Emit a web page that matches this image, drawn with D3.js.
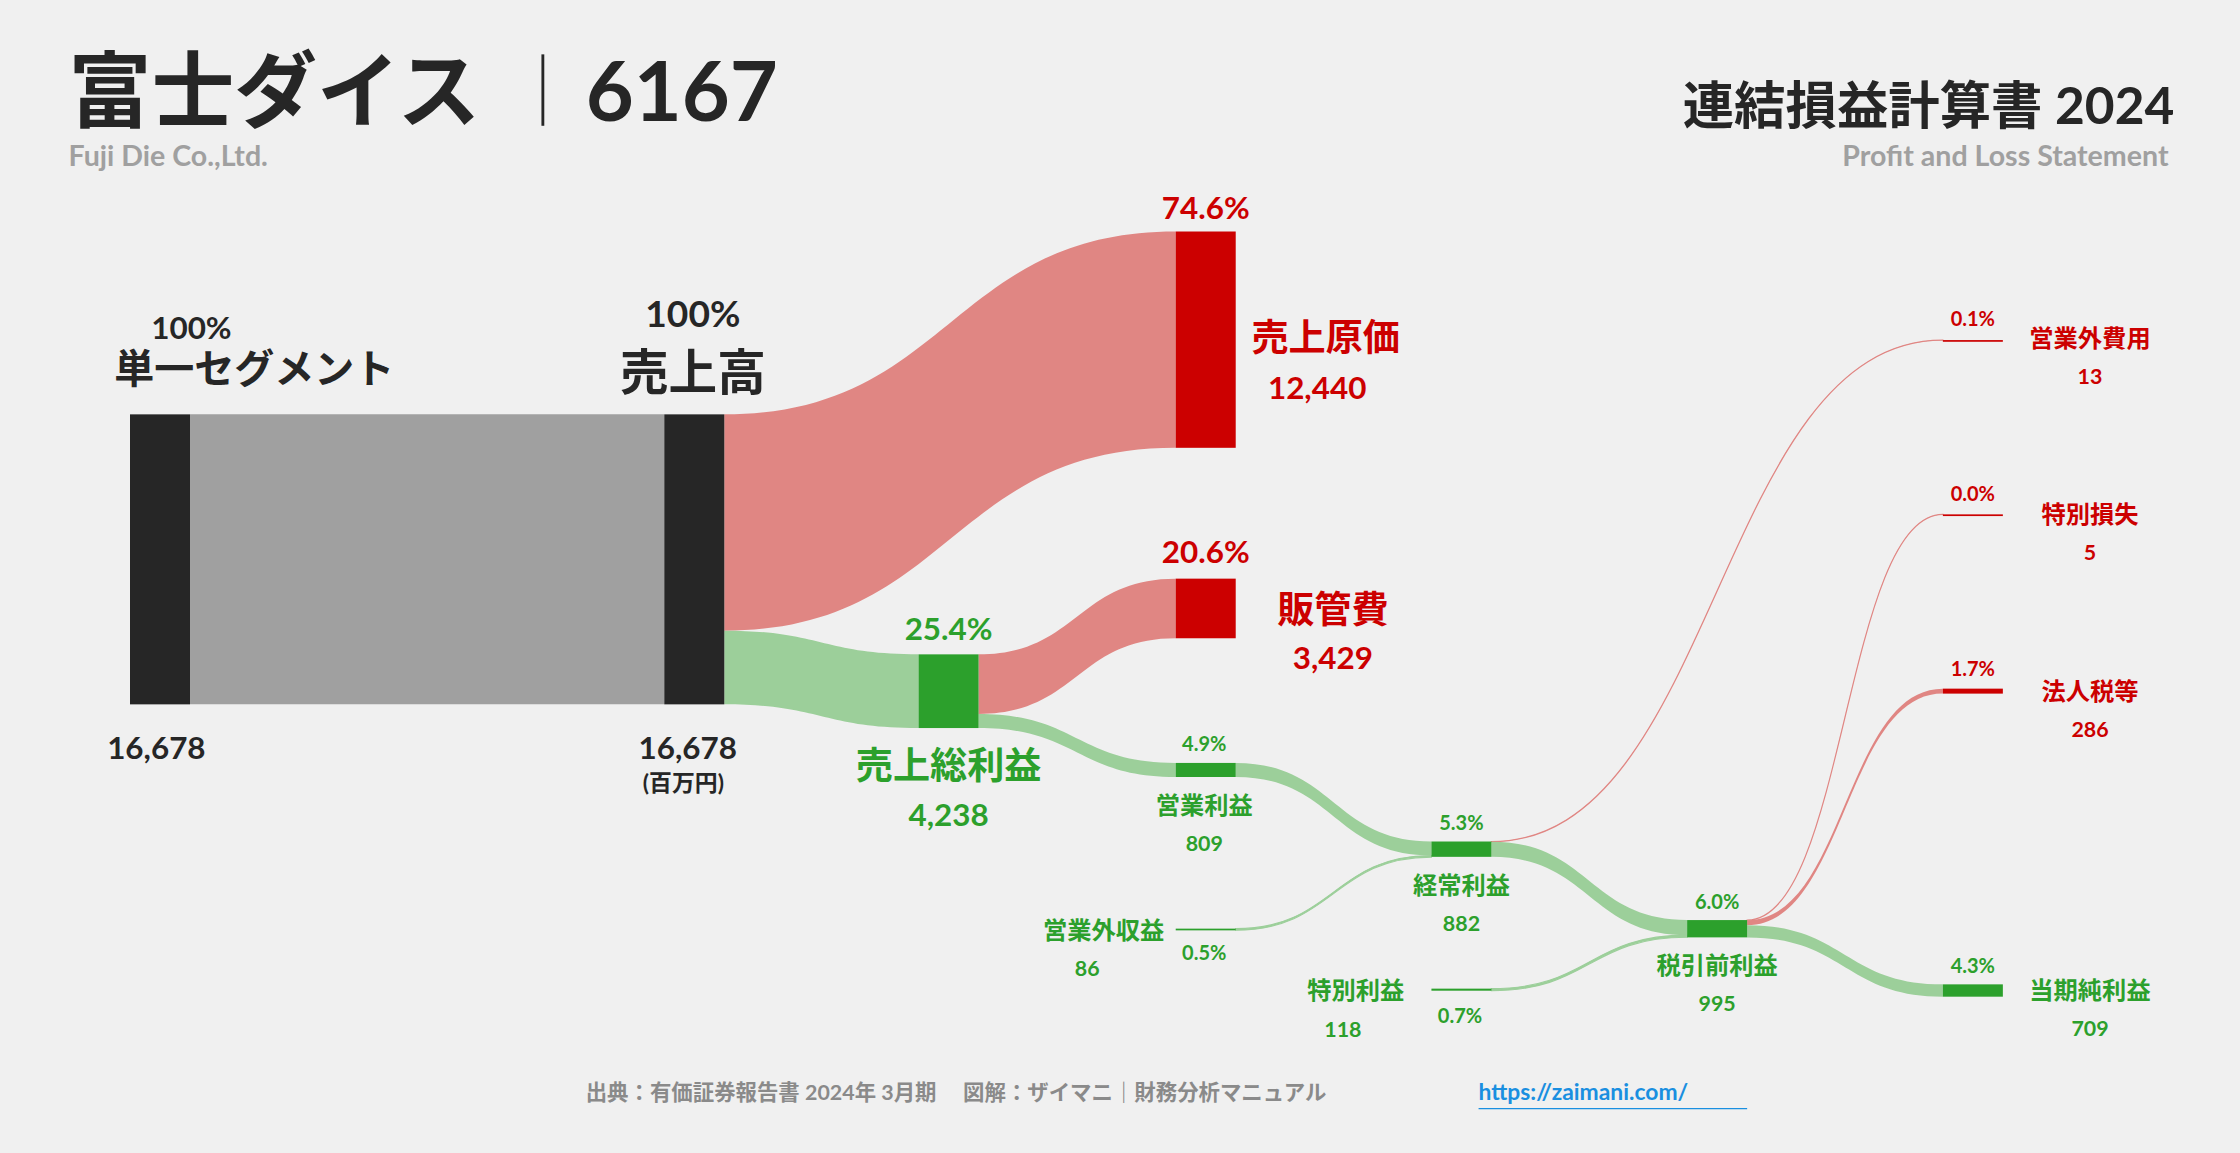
<!DOCTYPE html>
<html><head><meta charset="utf-8">
<script src="https://cdn.jsdelivr.net/npm/d3@7"></script>
<style>body{margin:0;background:#f0f0f0}svg{display:block}text{font-family:Lato,"Noto Sans CJK JP",sans-serif;font-weight:700}</style>
</head><body><svg id="c" width="2240" height="1153" viewBox="0 0 1568 807"></svg>
<script>
// ---- data ----
const nodeNames = ["単一セグメント","売上高","売上原価","販管費","売上総利益","営業利益","営業外収益","経常利益","特別利益","営業外費用","税引前利益","特別損失","法人税等","当期純利益"];
const nodeValues = [16678,16678,12440,3429,4238,809,86,882,118,13,995,5,286,709];
const nodeKinds = ["k","k","r","r","g","g","g","g","g","r","g","r","r","g"];
const linkSources = ["単一セグメント","売上高","売上高","売上総利益","売上総利益","営業利益","営業外収益","経常利益","経常利益","特別利益","税引前利益","税引前利益","税引前利益"];
const linkTargets = ["売上高","売上原価","売上総利益","販管費","営業利益","経常利益","経常利益","営業外費用","税引前利益","税引前利益","特別損失","法人税等","当期純利益"];
const linkValues = [16678,12440,4238,3429,809,809,86,13,869,118,5,286,709];
// layout (column x, node top)
const layoutX = [91,465,823,823,643,823,823,1002,1002,1360,1181,1360,1360,1360];
const layoutY = [290,290,162,405,458,534,650,589,692,238,644,360,482,689];

const svg = d3.select("#c");
svg.append("rect").attr("width",1568).attr("height",807).attr("fill","#f0f0f0");
const h = d3.scaleLinear().domain([0,16678]).range([0,203]);
const W = 42;
const nodeCol = {k:"#262626",r:"#cc0000",g:"#2ca02c"};
const linkCol = {k:"#a0a0a0",r:"#e08683",g:"#9ccf9a"};
const nodes = {};
nodeNames.forEach((n,i)=>nodes[n]={x:layoutX[i],y:layoutY[i],h:h(nodeValues[i]),kind:nodeKinds[i],out:0,inn:0});
const gL = svg.append("g"), gN = svg.append("g");
linkSources.forEach((s,i)=>{
  const S=nodes[s],T=nodes[linkTargets[i]],w=h(linkValues[i]);
  const x0=S.x+W,x1=T.x,y0=S.y+S.out,y1=T.y+T.inn;S.out+=w;T.inn+=w;
  const xm=(x0+x1)/2;
  const kind = T.kind==="r"?"r":(S.kind==="k"&&T.kind==="k"?"k":"g");
  const p=d3.path();
  p.moveTo(x0,y0);p.bezierCurveTo(xm,y0,xm,y1,x1,y1);p.lineTo(x1,y1+w);
  p.bezierCurveTo(xm,y1+w,xm,y0+w,x0,y0+w);p.closePath();
  gL.append("path").attr("d",p.toString()).attr("fill",linkCol[kind])
    .attr("stroke",linkCol[kind]).attr("stroke-width",w<2?0.8:0);
});
nodeNames.forEach(n=>{const d=nodes[n];
  gN.append("rect").attr("x",d.x).attr("y",d.y).attr("width",W).attr("height",Math.max(d.h,1.2)).attr("fill",nodeCol[d.kind]);});

function t(x,y,s,size,col,anchor="middle",weight=700){
  return svg.append("text").attr("x",x).attr("y",y).text(s).attr("font-size",size).attr("fill",col).attr("text-anchor",anchor).attr("font-weight",weight);}
const K="#262626",R="#cc0000",G="#2ca02c",GR="#a0a0a0";
const fmt=d3.format(",");
const pct=v=>(v/16678*100).toFixed(1)+"%";
// header
t(48,85,"富士ダイス",58,K,"start",900);
svg.append("line").attr("x1",380).attr("x2",380).attr("y1",38).attr("y2",88).attr("stroke",K).attr("stroke-width",2);
t(410,85,"6167",58,K,"start",900);
t(48,116,"Fuji Die Co.,Ltd.",20,GR,"start");
t(1522,87,"連結損益計算書 2024",36,K,"end",900);
t(1518,116,"Profit and Loss Statement",20,GR,"end");
// labels
t(134,237,"100%",22,K);t(178,268,"単一セグメント",28,K);
t(485,229,"100%",26,K);t(485,273,"売上高",34,K);
t(75,531,fmt(nodeValues[0]),22,K,"start");t(447,531,fmt(nodeValues[1]),22,K,"start");
t(450,554,"(百万円)",16,K,"start");
t(844,153,pct(12440),22,R);t(876,246,"売上原価",26,R,"start");t(922,279,fmt(12440),22,R);
t(844,394,pct(3429),22,R);t(933,436,"販管費",26,R);t(933,468,fmt(3429),22,R);
t(664,448,pct(4238),22,G);t(664,545,"売上総利益",26,G);t(664,578,fmt(4238),22,G);
t(843,526,pct(809),14,G);t(843,570,"営業利益",17,G);t(843,596,fmt(809),15,G);
t(815,657,"営業外収益",17,G,"end");t(761,683,fmt(86),15,G);t(843,672,pct(86),14,G);
t(1023,581,pct(882),14,G);t(1023,626,"経常利益",17,G);t(1023,652,fmt(882),15,G);
t(983,699,"特別利益",17,G,"end");t(940,726,fmt(118),15,G);t(1022,716,pct(118),14,G);
t(1202,636,pct(995),14,G);t(1202,682,"税引前利益",17,G);t(1202,708,fmt(995),15,G);
t(1381,228,pct(13),14,R);t(1463,243,"営業外費用",17,R);t(1463,269,fmt(13),15,R);
t(1381,351,pct(5),14,R);t(1463,366,"特別損失",17,R);t(1463,392,fmt(5),15,R);
t(1381,473,pct(286),14,R);t(1463,490,"法人税等",17,R);t(1463,516,fmt(286),15,R);
t(1381,681,pct(709),14,G);t(1463,699,"当期純利益",17,G);t(1463,725,fmt(709),15,G);
// footer
t(410,770,"出典：有価証券報告書 2024年 3月期　 図解：ザイマニ｜財務分析マニュアル",15,"#8a8a8a","start");
t(1035,770,"https://zaimani.com/",16,"#1a8fe0","start");
svg.append("line").attr("x1",1035).attr("x2",1223).attr("y1",776).attr("y2",776).attr("stroke","#1a8fe0").attr("stroke-width",1);
</script></body></html>
